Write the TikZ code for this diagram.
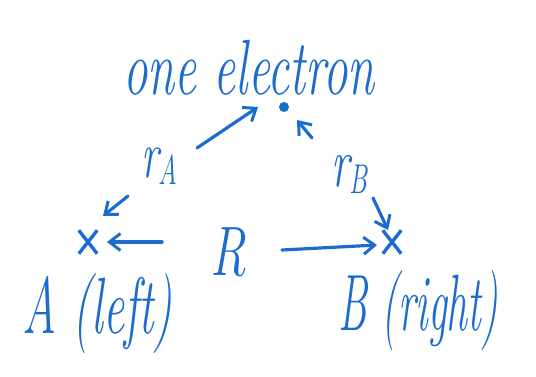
\documentclass[tikz,border=0pt]{standalone}
\usetikzlibrary{arrows.meta,shapes.misc}
\definecolor{ink}{RGB}{28,108,208}
\begin{document}
\begin{tikzpicture}[x=1pt,y=-1pt,
  lbl/.style={text=ink,inner sep=0pt,font=\itshape},
  arr/.style={draw=ink,line width=3.2pt,line cap=round,-{Straight Barb[length=11pt,width=17pt,line width=3pt]}},
  xmark/.style={cross out,draw=ink,line width=3.4pt,minimum width=15pt,minimum height=20pt,inner sep=0pt}]
\useasboundingbox (0,0) rectangle (536,377);
\node[lbl,yscale=1.6] (title) at (249,68) {\fontsize{49}{50}\selectfont one electron};
\node[circle,fill=ink,minimum size=10pt,inner sep=0pt] (dot) at (284,107) {};
\node[xmark] (xa) at (88,242) {};
\node[xmark] (xb) at (392,242) {};
\node[lbl,yscale=1.6,anchor=base west] (ra) at (141,178) {\fontsize{42}{42}\selectfont r\raisebox{-4pt}{\fontsize{26}{26}\selectfont A}};
\node[lbl,yscale=1.6,anchor=base west] (rb) at (331,187) {\fontsize{44}{44}\selectfont r\raisebox{-4pt}{\fontsize{26}{26}\selectfont B}};
\node[lbl,yscale=1.4,anchor=base west] (R) at (210,275) {\fontsize{50}{50}\selectfont R};
\node[lbl,yscale=1.7,anchor=base west] (A) at (22,333) {\fontsize{47}{48}\selectfont A (left)};
\node[lbl,yscale=1.7,xscale=0.89,anchor=base west] (B) at (338,330) {\fontsize{47}{48}\selectfont B (right)};
\coordinate (a1) at (197,148); \coordinate (a2) at (258,107);
\coordinate (b1) at (128,196); \coordinate (b2) at (103,216);
\coordinate (c1) at (162,242); \coordinate (c2) at (107,242);
\coordinate (d1) at (282,250); \coordinate (d2) at (377,245);
\coordinate (e1) at (312,138); \coordinate (e2) at (297,120);
\coordinate (f1) at (373,198); \coordinate (f2) at (388,230);
\draw[arr] (a1) -- (a2);
\draw[arr] (b1) -- (b2);
\draw[arr] (c1) -- (c2);
\draw[arr] (d1) -- (d2);
\draw[arr] (e1) -- (e2);
\draw[arr] (f1) -- (f2);
\end{tikzpicture}
\end{document}
